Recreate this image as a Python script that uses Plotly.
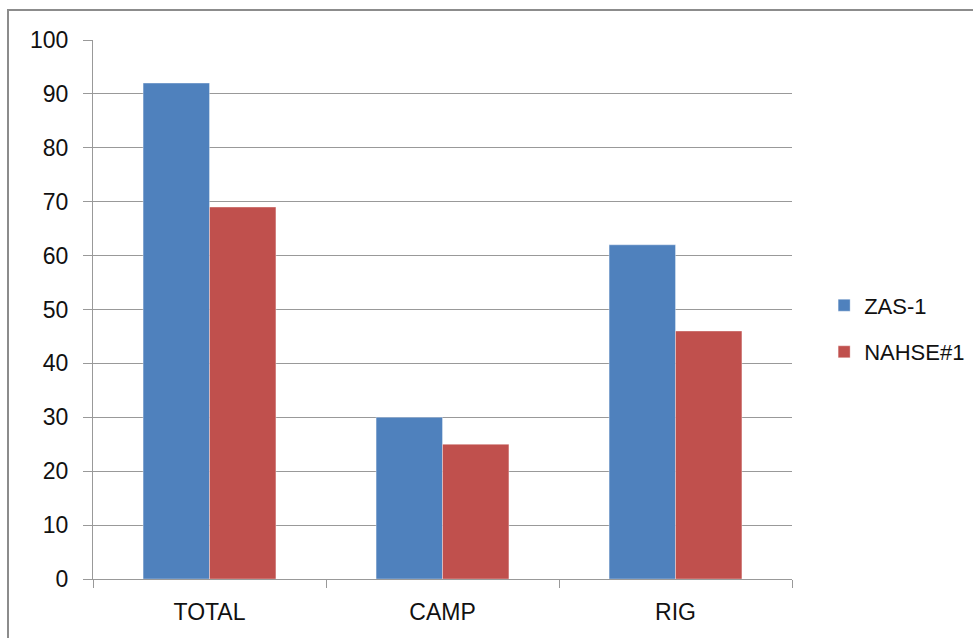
import plotly.graph_objects as go

categories = ["TOTAL", "CAMP", "RIG"]
zas1 = [92, 30, 62]
nahse1 = [69, 25, 46]
series_names = ["ZAS-1", "NAHSE#1"]
y_ticks = [0, 10, 20, 30, 40, 50, 60, 70, 80, 90, 100]

fig = go.Figure()
fig.add_trace(go.Bar(x=categories, y=zas1, name=series_names[0],
                     marker=dict(color="#4F81BD", line=dict(color="rgba(255,255,255,0.35)", width=1)),
                     legendgroup="a"))
fig.add_trace(go.Bar(x=categories, y=nahse1, name=series_names[1],
                     marker=dict(color="#C0504D", line=dict(color="rgba(255,255,255,0.35)", width=1)),
                     legendgroup="b"))

font = dict(family="Liberation Sans, Arial, sans-serif", size=23, color="#111111")

fig.update_layout(
    width=973, height=638,
    margin=dict(l=93, r=181, t=40, b=59),
    paper_bgcolor="white", plot_bgcolor="white",
    font=font,
    barmode="group", bargap=0.43, bargroupgap=0,
    showlegend=True,
    legend=dict(xref="container", x=0.847, y=0.464, xanchor="left", yanchor="middle",
                font=dict(family=font["family"], size=22, color="#111111"),
                tracegroupgap=15, traceorder="grouped", bgcolor="rgba(0,0,0,0)"),
    xaxis=dict(type="category", tickson="boundaries", ticks="outside", ticklen=8,
               tickcolor="#999999", tickwidth=1, showline=True, linecolor="#999999",
               linewidth=1, showgrid=False, ticklabelstandoff=12),
    yaxis=dict(range=[0, 100], tickvals=y_ticks, ticks="outside", ticklen=9,
               tickcolor="#999999", tickwidth=1, showline=True, linecolor="#999999",
               linewidth=1, showgrid=True, gridcolor="#999999", gridwidth=1,
               zeroline=False, ticklabelstandoff=10),
    shapes=[dict(type="rect", xref="paper", yref="paper",
                 x0=-0.1216, x1=2, y0=-1, y1=1.0557,
                 line=dict(color="#8c8c8c", width=2), fillcolor="rgba(0,0,0,0)", layer="below")],
)

fig.write_html("out.html")
